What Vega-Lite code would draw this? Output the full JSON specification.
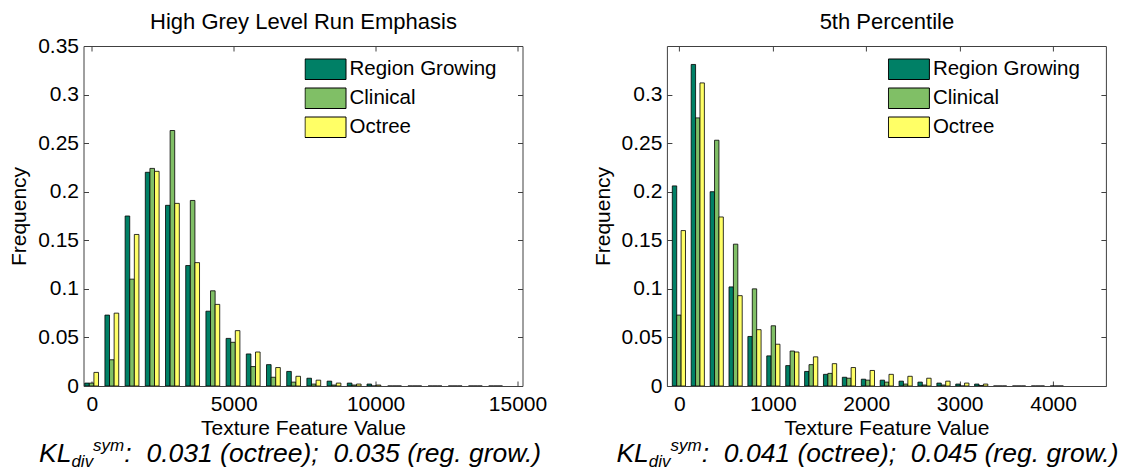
{
  "$schema": "https://vega.github.io/schema/vega-lite/v6.json",
  "background": "white",
  "padding": {"left": 8.5, "top": 10, "right": 0, "bottom": 0},
  "config": {
    "font": "Liberation Sans",
    "view": {"stroke": null},
    "axis": {
      "grid": false,
      "labelFont": "Liberation Sans",
      "titleFont": "Liberation Sans",
      "labelFontSize": 21,
      "titleFontSize": 21,
      "titleFontWeight": "normal",
      "labelColor": "black",
      "titleColor": "black",
      "domainColor": "#404040",
      "tickColor": "#404040",
      "domainWidth": 1,
      "tickWidth": 1,
      "labelFlush": false,
      "labelOverlap": false
    }
  },
  "datasets": {
    "hgl": [
      {"value": -7, "method": "Region Growing", "frequency": 0.003},
      {"value": -7, "method": "Clinical", "frequency": 0.003},
      {"value": -7, "method": "Octree", "frequency": 0.014},
      {"value": 705, "method": "Region Growing", "frequency": 0.073},
      {"value": 705, "method": "Clinical", "frequency": 0.027},
      {"value": 705, "method": "Octree", "frequency": 0.075},
      {"value": 1417, "method": "Region Growing", "frequency": 0.175},
      {"value": 1417, "method": "Clinical", "frequency": 0.11},
      {"value": 1417, "method": "Octree", "frequency": 0.156},
      {"value": 2128, "method": "Region Growing", "frequency": 0.22},
      {"value": 2128, "method": "Clinical", "frequency": 0.224},
      {"value": 2128, "method": "Octree", "frequency": 0.221},
      {"value": 2840, "method": "Region Growing", "frequency": 0.186},
      {"value": 2840, "method": "Clinical", "frequency": 0.263},
      {"value": 2840, "method": "Octree", "frequency": 0.188},
      {"value": 3552, "method": "Region Growing", "frequency": 0.124},
      {"value": 3552, "method": "Clinical", "frequency": 0.191},
      {"value": 3552, "method": "Octree", "frequency": 0.127},
      {"value": 4264, "method": "Region Growing", "frequency": 0.077},
      {"value": 4264, "method": "Clinical", "frequency": 0.098},
      {"value": 4264, "method": "Octree", "frequency": 0.084},
      {"value": 4975, "method": "Region Growing", "frequency": 0.049},
      {"value": 4975, "method": "Clinical", "frequency": 0.045},
      {"value": 4975, "method": "Octree", "frequency": 0.057},
      {"value": 5687, "method": "Region Growing", "frequency": 0.033},
      {"value": 5687, "method": "Clinical", "frequency": 0.02},
      {"value": 5687, "method": "Octree", "frequency": 0.035},
      {"value": 6399, "method": "Region Growing", "frequency": 0.022},
      {"value": 6399, "method": "Clinical", "frequency": 0.009},
      {"value": 6399, "method": "Octree", "frequency": 0.019},
      {"value": 7111, "method": "Region Growing", "frequency": 0.015},
      {"value": 7111, "method": "Clinical", "frequency": 0.004},
      {"value": 7111, "method": "Octree", "frequency": 0.01},
      {"value": 7822, "method": "Region Growing", "frequency": 0.008},
      {"value": 7822, "method": "Clinical", "frequency": 0.002},
      {"value": 7822, "method": "Octree", "frequency": 0.006},
      {"value": 8534, "method": "Region Growing", "frequency": 0.005},
      {"value": 8534, "method": "Clinical", "frequency": 0.001},
      {"value": 8534, "method": "Octree", "frequency": 0.003},
      {"value": 9246, "method": "Region Growing", "frequency": 0.003},
      {"value": 9246, "method": "Clinical", "frequency": 0.001},
      {"value": 9246, "method": "Octree", "frequency": 0.002},
      {"value": 9940, "method": "Region Growing", "frequency": 0.002},
      {"value": 9940, "method": "Clinical", "frequency": 0},
      {"value": 9940, "method": "Octree", "frequency": 0.001},
      {"value": 10669, "method": "Region Growing", "frequency": 0},
      {"value": 10669, "method": "Clinical", "frequency": 0},
      {"value": 10669, "method": "Octree", "frequency": 0},
      {"value": 11381, "method": "Region Growing", "frequency": 0},
      {"value": 11381, "method": "Clinical", "frequency": 0},
      {"value": 11381, "method": "Octree", "frequency": 0},
      {"value": 12093, "method": "Region Growing", "frequency": 0},
      {"value": 12093, "method": "Clinical", "frequency": 0},
      {"value": 12093, "method": "Octree", "frequency": 0},
      {"value": 12805, "method": "Region Growing", "frequency": 0},
      {"value": 12805, "method": "Clinical", "frequency": 0},
      {"value": 12805, "method": "Octree", "frequency": 0},
      {"value": 13516, "method": "Region Growing", "frequency": 0},
      {"value": 13516, "method": "Clinical", "frequency": 0},
      {"value": 13516, "method": "Octree", "frequency": 0},
      {"value": 14228, "method": "Region Growing", "frequency": 0},
      {"value": 14228, "method": "Clinical", "frequency": 0},
      {"value": 14228, "method": "Octree", "frequency": 0}
    ],
    "p5": [
      {"value": -5, "method": "Region Growing", "frequency": 0.206},
      {"value": -5, "method": "Clinical", "frequency": 0.073},
      {"value": -5, "method": "Octree", "frequency": 0.16},
      {"value": 197, "method": "Region Growing", "frequency": 0.331},
      {"value": 197, "method": "Clinical", "frequency": 0.276},
      {"value": 197, "method": "Octree", "frequency": 0.312},
      {"value": 400, "method": "Region Growing", "frequency": 0.2},
      {"value": 400, "method": "Clinical", "frequency": 0.253},
      {"value": 400, "method": "Octree", "frequency": 0.174},
      {"value": 602, "method": "Region Growing", "frequency": 0.102},
      {"value": 602, "method": "Clinical", "frequency": 0.146},
      {"value": 602, "method": "Octree", "frequency": 0.093},
      {"value": 804, "method": "Region Growing", "frequency": 0.051},
      {"value": 804, "method": "Clinical", "frequency": 0.1},
      {"value": 804, "method": "Octree", "frequency": 0.058},
      {"value": 1006, "method": "Region Growing", "frequency": 0.031},
      {"value": 1006, "method": "Clinical", "frequency": 0.062},
      {"value": 1006, "method": "Octree", "frequency": 0.043},
      {"value": 1209, "method": "Region Growing", "frequency": 0.021},
      {"value": 1209, "method": "Clinical", "frequency": 0.036},
      {"value": 1209, "method": "Octree", "frequency": 0.035},
      {"value": 1411, "method": "Region Growing", "frequency": 0.015},
      {"value": 1411, "method": "Clinical", "frequency": 0.022},
      {"value": 1411, "method": "Octree", "frequency": 0.03},
      {"value": 1613, "method": "Region Growing", "frequency": 0.012},
      {"value": 1613, "method": "Clinical", "frequency": 0.013},
      {"value": 1613, "method": "Octree", "frequency": 0.023},
      {"value": 1815, "method": "Region Growing", "frequency": 0.009},
      {"value": 1815, "method": "Clinical", "frequency": 0.008},
      {"value": 1815, "method": "Octree", "frequency": 0.019},
      {"value": 2018, "method": "Region Growing", "frequency": 0.007},
      {"value": 2018, "method": "Clinical", "frequency": 0.006},
      {"value": 2018, "method": "Octree", "frequency": 0.016},
      {"value": 2220, "method": "Region Growing", "frequency": 0.006},
      {"value": 2220, "method": "Clinical", "frequency": 0.004},
      {"value": 2220, "method": "Octree", "frequency": 0.012},
      {"value": 2422, "method": "Region Growing", "frequency": 0.005},
      {"value": 2422, "method": "Clinical", "frequency": 0.002},
      {"value": 2422, "method": "Octree", "frequency": 0.01},
      {"value": 2624, "method": "Region Growing", "frequency": 0.004},
      {"value": 2624, "method": "Clinical", "frequency": 0.001},
      {"value": 2624, "method": "Octree", "frequency": 0.008},
      {"value": 2827, "method": "Region Growing", "frequency": 0.003},
      {"value": 2827, "method": "Clinical", "frequency": 0.001},
      {"value": 2827, "method": "Octree", "frequency": 0.005},
      {"value": 3029, "method": "Region Growing", "frequency": 0.002},
      {"value": 3029, "method": "Clinical", "frequency": 0},
      {"value": 3029, "method": "Octree", "frequency": 0.003},
      {"value": 3231, "method": "Region Growing", "frequency": 0.002},
      {"value": 3231, "method": "Clinical", "frequency": 0.0005},
      {"value": 3231, "method": "Octree", "frequency": 0.002},
      {"value": 3433, "method": "Region Growing", "frequency": 0},
      {"value": 3433, "method": "Clinical", "frequency": 0},
      {"value": 3433, "method": "Octree", "frequency": 0},
      {"value": 3636, "method": "Region Growing", "frequency": 0},
      {"value": 3636, "method": "Clinical", "frequency": 0},
      {"value": 3636, "method": "Octree", "frequency": 0},
      {"value": 3838, "method": "Region Growing", "frequency": 0},
      {"value": 3838, "method": "Clinical", "frequency": 0},
      {"value": 3838, "method": "Octree", "frequency": 0},
      {"value": 4040, "method": "Region Growing", "frequency": 0},
      {"value": 4040, "method": "Clinical", "frequency": 0},
      {"value": 4040, "method": "Octree", "frequency": 0}
    ]
  },
  "spacing": 144.4,
  "bounds": "flush",
  "resolve": {
    "scale": {"x": "independent", "y": "independent", "color": "independent"},
    "legend": {"color": "independent"}
  },
  "hconcat": [
    {
      "width": 439,
      "height": 340,
      "resolve": {"axis": {"x": "independent", "y": "independent"}},
      "layer": [
        {
          "data": {"name": "hgl"},
          "transform": [{"filter": "datum.method === 'Region Growing'"}],
          "mark": {"type": "bar", "width": 4.6, "xOffset": -4.6, "stroke": "black", "strokeWidth": 0.8, "clip": true, "opacity": 1},
          "encoding": {
            "x": {"field": "value", "type": "quantitative", "scale": {"domain": [-117, 15000], "nice": false, "zero": false},
                  "axis": {"orient": "bottom", "values": [0, 5000, 10000, 15000], "format": "d", "tickSize": -5, "labelPadding": 12, "title": "Texture Feature Value", "titlePadding": 3}},
            "y": {"field": "frequency", "type": "quantitative", "scale": {"domain": [0, 0.35], "nice": false},
                  "axis": {"orient": "left", "values": [0, 0.05, 0.1, 0.15, 0.2, 0.25, 0.3, 0.35], "format": "~g", "tickSize": -5, "labelPadding": 10, "title": "Frequency", "titlePadding": 8}},
            "color": {"field": "method", "type": "nominal",
                      "scale": {"domain": ["Region Growing", "Clinical", "Octree"], "range": ["#008066", "#80BF66", "#FFFF66"]},
                      "legend": {"title": null, "orient": "none", "legendX": 221, "legendY": 9, "padding": 0, "symbolType": "M-1,-0.5H1V0.5H-1Z", "symbolSize": 1681, "symbolStrokeColor": "black", "symbolStrokeWidth": 1, "symbolOpacity": 1, "clipHeight": 28.5, "rowPadding": 0, "labelOffset": 3, "labelFontSize": 20.5, "labelFont": "Liberation Sans", "labelColor": "black"}}
          }
        },
        {
          "data": {"name": "hgl"},
          "transform": [{"filter": "datum.method === 'Clinical'"}],
          "mark": {"type": "bar", "width": 4.6, "xOffset": 0, "stroke": "black", "strokeWidth": 0.8, "clip": true, "opacity": 1},
          "encoding": {
            "x": {"field": "value", "type": "quantitative", "scale": {"domain": [-117, 15000], "nice": false, "zero": false},
                  "axis": {"orient": "top", "values": [0, 5000, 10000, 15000], "labels": false, "tickSize": -5, "title": "High Grey Level Run Emphasis", "titleFontSize": 22, "titlePadding": 12}},
            "y": {"field": "frequency", "type": "quantitative", "scale": {"domain": [0, 0.35], "nice": false},
                  "axis": {"orient": "right", "values": [0, 0.05, 0.1, 0.15, 0.2, 0.25, 0.3, 0.35], "labels": false, "tickSize": -5, "title": null}},
            "color": {"field": "method", "type": "nominal",
                      "scale": {"domain": ["Region Growing", "Clinical", "Octree"], "range": ["#008066", "#80BF66", "#FFFF66"]},
                      "legend": {"title": null, "orient": "none", "legendX": 221, "legendY": 9, "padding": 0, "symbolType": "M-1,-0.5H1V0.5H-1Z", "symbolSize": 1681, "symbolStrokeColor": "black", "symbolStrokeWidth": 1, "symbolOpacity": 1, "clipHeight": 28.5, "rowPadding": 0, "labelOffset": 3, "labelFontSize": 20.5, "labelFont": "Liberation Sans", "labelColor": "black"}}
          }
        },
        {
          "data": {"name": "hgl"},
          "transform": [{"filter": "datum.method === 'Octree'"}],
          "mark": {"type": "bar", "width": 4.6, "xOffset": 4.6, "stroke": "black", "strokeWidth": 0.8, "clip": true, "opacity": 1},
          "encoding": {
            "x": {"field": "value", "type": "quantitative", "scale": {"domain": [-117, 15000], "nice": false, "zero": false}, "axis": null},
            "y": {"field": "frequency", "type": "quantitative", "scale": {"domain": [0, 0.35], "nice": false}, "axis": null},
            "color": {"field": "method", "type": "nominal",
                      "scale": {"domain": ["Region Growing", "Clinical", "Octree"], "range": ["#008066", "#80BF66", "#FFFF66"]},
                      "legend": {"title": null, "orient": "none", "legendX": 221, "legendY": 9, "padding": 0, "symbolType": "M-1,-0.5H1V0.5H-1Z", "symbolSize": 1681, "symbolStrokeColor": "black", "symbolStrokeWidth": 1, "symbolOpacity": 1, "clipHeight": 28.5, "rowPadding": 0, "labelOffset": 3, "labelFontSize": 20.5, "labelFont": "Liberation Sans", "labelColor": "black"}}
          }
        },
        {
          "data": {"values": [{"t": "KL"}]},
          "mark": {"type": "text", "align": "left", "baseline": "alphabetic", "dx": -264, "dy": 246, "fontSize": 26.5, "fontStyle": "italic", "font": "Liberation Sans", "color": "black"},
          "encoding": {"text": {"field": "t"}}
        },
        {
          "data": {"values": [{"t": "div"}]},
          "mark": {"type": "text", "align": "left", "baseline": "alphabetic", "dx": -231.6, "dy": 251, "fontSize": 17, "fontStyle": "italic", "font": "Liberation Sans", "color": "black"},
          "encoding": {"text": {"field": "t"}}
        },
        {
          "data": {"values": [{"t": "sym"}]},
          "mark": {"type": "text", "align": "left", "baseline": "alphabetic", "dx": -209.9, "dy": 235, "fontSize": 17, "fontStyle": "italic", "font": "Liberation Sans", "color": "black"},
          "encoding": {"text": {"field": "t"}}
        },
        {
          "data": {"values": [{"t": ":\u00a0 0.031 (octree);\u00a0 0.035 (reg. grow.)"}]},
          "mark": {"type": "text", "align": "left", "baseline": "alphabetic", "dx": -178.7, "dy": 246, "fontSize": 26.5, "fontStyle": "italic", "font": "Liberation Sans", "color": "black"},
          "encoding": {"text": {"field": "t"}}
        }
      ]
    },
    {
      "width": 439,
      "height": 340,
      "resolve": {"axis": {"x": "independent", "y": "independent"}},
      "layer": [
        {
          "data": {"name": "p5"},
          "transform": [{"filter": "datum.method === 'Region Growing'"}],
          "mark": {"type": "bar", "width": 4.4, "xOffset": -4.4, "stroke": "black", "strokeWidth": 0.8, "clip": true, "opacity": 1},
          "encoding": {
            "x": {"field": "value", "type": "quantitative", "scale": {"domain": [-80, 4512], "nice": false, "zero": false},
                  "axis": {"orient": "bottom", "values": [0, 1000, 2000, 3000, 4000], "format": "d", "tickSize": -5, "labelPadding": 12, "title": "Texture Feature Value", "titlePadding": 3}},
            "y": {"field": "frequency", "type": "quantitative", "scale": {"domain": [0, 0.35], "nice": false},
                  "axis": {"orient": "left", "values": [0, 0.05, 0.1, 0.15, 0.2, 0.25, 0.3], "format": "~g", "tickSize": -5, "labelPadding": 10, "title": "Frequency", "titlePadding": 8}},
            "color": {"field": "method", "type": "nominal",
                      "scale": {"domain": ["Region Growing", "Clinical", "Octree"], "range": ["#008066", "#80BF66", "#FFFF66"]},
                      "legend": {"title": null, "orient": "none", "legendX": 221, "legendY": 9, "padding": 0, "symbolType": "M-1,-0.5H1V0.5H-1Z", "symbolSize": 1681, "symbolStrokeColor": "black", "symbolStrokeWidth": 1, "symbolOpacity": 1, "clipHeight": 28.5, "rowPadding": 0, "labelOffset": 3, "labelFontSize": 20.5, "labelFont": "Liberation Sans", "labelColor": "black"}}
          }
        },
        {
          "data": {"name": "p5"},
          "transform": [{"filter": "datum.method === 'Clinical'"}],
          "mark": {"type": "bar", "width": 4.4, "xOffset": 0, "stroke": "black", "strokeWidth": 0.8, "clip": true, "opacity": 1},
          "encoding": {
            "x": {"field": "value", "type": "quantitative", "scale": {"domain": [-80, 4512], "nice": false, "zero": false},
                  "axis": {"orient": "top", "values": [0, 1000, 2000, 3000, 4000], "labels": false, "tickSize": -5, "title": "5th Percentile", "titleFontSize": 22, "titlePadding": 12}},
            "y": {"field": "frequency", "type": "quantitative", "scale": {"domain": [0, 0.35], "nice": false},
                  "axis": {"orient": "right", "values": [0, 0.05, 0.1, 0.15, 0.2, 0.25, 0.3], "labels": false, "tickSize": -5, "title": null}},
            "color": {"field": "method", "type": "nominal",
                      "scale": {"domain": ["Region Growing", "Clinical", "Octree"], "range": ["#008066", "#80BF66", "#FFFF66"]},
                      "legend": {"title": null, "orient": "none", "legendX": 221, "legendY": 9, "padding": 0, "symbolType": "M-1,-0.5H1V0.5H-1Z", "symbolSize": 1681, "symbolStrokeColor": "black", "symbolStrokeWidth": 1, "symbolOpacity": 1, "clipHeight": 28.5, "rowPadding": 0, "labelOffset": 3, "labelFontSize": 20.5, "labelFont": "Liberation Sans", "labelColor": "black"}}
          }
        },
        {
          "data": {"name": "p5"},
          "transform": [{"filter": "datum.method === 'Octree'"}],
          "mark": {"type": "bar", "width": 4.4, "xOffset": 4.4, "stroke": "black", "strokeWidth": 0.8, "clip": true, "opacity": 1},
          "encoding": {
            "x": {"field": "value", "type": "quantitative", "scale": {"domain": [-80, 4512], "nice": false, "zero": false}, "axis": null},
            "y": {"field": "frequency", "type": "quantitative", "scale": {"domain": [0, 0.35], "nice": false}, "axis": null},
            "color": {"field": "method", "type": "nominal",
                      "scale": {"domain": ["Region Growing", "Clinical", "Octree"], "range": ["#008066", "#80BF66", "#FFFF66"]},
                      "legend": {"title": null, "orient": "none", "legendX": 221, "legendY": 9, "padding": 0, "symbolType": "M-1,-0.5H1V0.5H-1Z", "symbolSize": 1681, "symbolStrokeColor": "black", "symbolStrokeWidth": 1, "symbolOpacity": 1, "clipHeight": 28.5, "rowPadding": 0, "labelOffset": 3, "labelFontSize": 20.5, "labelFont": "Liberation Sans", "labelColor": "black"}}
          }
        },
        {
          "data": {"values": [{"t": "KL"}]},
          "mark": {"type": "text", "align": "left", "baseline": "alphabetic", "dx": -270, "dy": 246, "fontSize": 26.5, "fontStyle": "italic", "font": "Liberation Sans", "color": "black"},
          "encoding": {"text": {"field": "t"}}
        },
        {
          "data": {"values": [{"t": "div"}]},
          "mark": {"type": "text", "align": "left", "baseline": "alphabetic", "dx": -237.6, "dy": 251, "fontSize": 17, "fontStyle": "italic", "font": "Liberation Sans", "color": "black"},
          "encoding": {"text": {"field": "t"}}
        },
        {
          "data": {"values": [{"t": "sym"}]},
          "mark": {"type": "text", "align": "left", "baseline": "alphabetic", "dx": -215.9, "dy": 235, "fontSize": 17, "fontStyle": "italic", "font": "Liberation Sans", "color": "black"},
          "encoding": {"text": {"field": "t"}}
        },
        {
          "data": {"values": [{"t": ":\u00a0 0.041 (octree);\u00a0 0.045 (reg. grow.)"}]},
          "mark": {"type": "text", "align": "left", "baseline": "alphabetic", "dx": -184.7, "dy": 246, "fontSize": 26.5, "fontStyle": "italic", "font": "Liberation Sans", "color": "black"},
          "encoding": {"text": {"field": "t"}}
        }
      ]
    }
  ]
}
